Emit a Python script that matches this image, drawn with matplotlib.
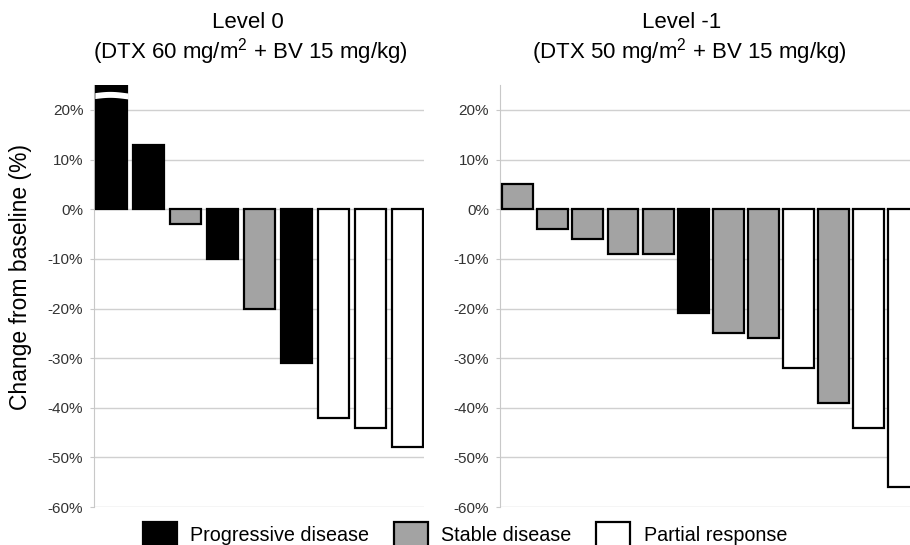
import numpy as np
import matplotlib
matplotlib.use("Agg")
import matplotlib.pyplot as plt
from matplotlib.patches import Patch

plt.rcParams["font.family"] = ["Liberation Sans", "DejaVu Sans"]
plt.rcParams["mathtext.fontset"] = "custom"
plt.rcParams["mathtext.rm"] = "Liberation Sans"

# --- data (best change from baseline, %) ---
# first Level 0 patient is off-scale (broken bar), drawn up to the top of the axis
level0_values = [25, 13, -3, -10, -20, -31, -42, -44, -48]
level0_resp = ["PD", "PD", "SD", "PD", "SD", "PD", "PR", "PR", "PR"]

level1_values = [5, -4, -6, -9, -9, -21, -25, -26, -32, -39, -44, -56]
level1_resp = ["SD", "SD", "SD", "SD", "SD", "PD", "SD", "SD", "PR", "SD", "PR", "PR"]

yticks = [20, 10, 0, -10, -20, -30, -40, -50, -60]
legend_labels = {"PD": "Progressive disease", "SD": "Stable disease", "PR": "Partial response"}
colors = {"PD": "#000000", "SD": "#a3a3a3", "PR": "#ffffff"}

fig = plt.figure(figsize=(9.1, 5.45), dpi=100)
ax0 = fig.add_axes([0.1038, 0.0697, 0.3626, 0.774])
ax1 = fig.add_axes([0.5495, 0.0697, 0.467, 0.774])


def draw_panel(ax, values, resp, xlim, width):
    x = np.arange(len(values))
    ax.bar(x, values, width=width, color=[colors[r] for r in resp],
           edgecolor="black", linewidth=1.6, zorder=3)
    ax.set_xlim(*xlim)
    ax.set_ylim(-60, 25)
    ax.set_yticks(yticks)
    ax.set_yticklabels([f"{t}%" for t in yticks], fontsize=11, color="#333333")
    ax.set_xticks([])
    ax.grid(axis="y", color="#d0d0d0", lw=1.0, zorder=0)
    for s in ["top", "right", "bottom"]:
        ax.spines[s].set_visible(False)
    ax.spines["left"].set_color("#c8c8c8")
    ax.tick_params(axis="y", length=3, color="#c8c8c8", pad=5)


draw_panel(ax0, level0_values, level0_resp, (-0.46, 8.47), 0.84)
draw_panel(ax1, level1_values, level1_resp, (-0.5, 11.6), 0.88)

# axis break on the first (off-scale) bar
xs = np.linspace(-0.45, 0.45, 50)
wave = 0.25 * np.sin((xs + 0.45) / 0.9 * np.pi * 1.1)
ax0.fill_between(xs, 22.3 + wave, 23.5 + wave, color="white", zorder=4, lw=0)

# titles
fig.text(0.272, 0.958, "Level 0", ha="center", va="center", fontsize=16)
fig.text(0.275, 0.905, r"(DTX 60 mg/m$^2$ + BV 15 mg/kg)", ha="center", va="center", fontsize=16)
fig.text(0.749, 0.958, "Level -1", ha="center", va="center", fontsize=16)
fig.text(0.758, 0.905, r"(DTX 50 mg/m$^2$ + BV 15 mg/kg)", ha="center", va="center", fontsize=16)

fig.text(0.022, 0.492, "Change from baseline (%)", rotation=90,
         ha="center", va="center", fontsize=16.5)

handles = [Patch(facecolor=colors[k], edgecolor="black", linewidth=1.6) for k in ["PD", "SD", "PR"]]
fig.legend(handles, [legend_labels[k] for k in ["PD", "SD", "PR"]],
           loc="upper center", bbox_to_anchor=(0.511, 0.042), ncol=3, frameon=False,
           fontsize=14.2, handlelength=1.7, handleheight=1.6, columnspacing=1.25,
           handletextpad=0.7, borderaxespad=0, borderpad=0)

fig.savefig("out.png", dpi=100)
